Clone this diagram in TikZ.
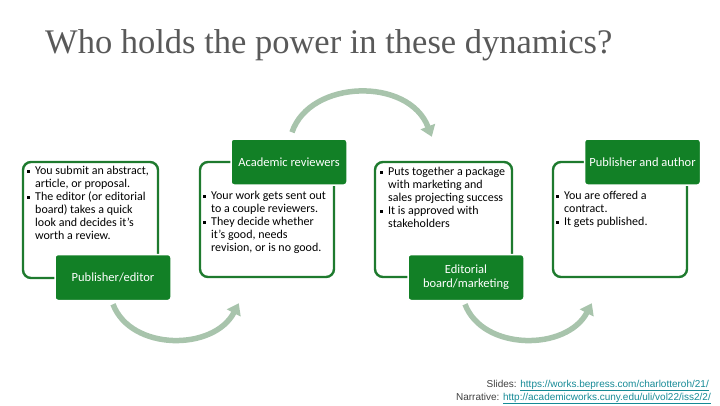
\documentclass[tikz,border=0pt]{standalone}
\usepackage{fontspec}
\setmainfont{Carlito}
\newfontfamily\titlefont{Liberation Serif}
\newfontfamily\notefont{Liberation Sans}
\usetikzlibrary{arrows.meta,calc}
\definecolor{boxgreen}{RGB}{18,128,38}
\definecolor{linegreen}{RGB}{30,122,46}
\definecolor{flowgray}{RGB}{168,196,172}
\definecolor{titlegray}{RGB}{89,89,89}
\definecolor{linkteal}{RGB}{22,138,150}
\tikzset{panel/.style={draw=linegreen,line width=2.4pt,rounded corners=8pt,fill=white,inner sep=0pt},
  tag/.style={fill=boxgreen,draw=white,line width=1.5pt,rounded corners=3pt,text=white,align=center,
    minimum width=116pt,minimum height=46pt,font=\fontsize{12.5}{14}\selectfont},
  points/.style={anchor=north west,align=left,inner sep=0pt,font=\fontsize{12}{13}\selectfont},
  flow/.style={draw=flowgray,line width=5.5pt,-{Triangle[width=15pt,length=11pt]}},
  source/.style={anchor=base east,inner sep=0pt,text=black!75,font=\notefont\fontsize{10}{12}\selectfont}}
\newcommand{\bul}{\makebox[8pt][l]{\rule[0.3ex]{0.45ex}{0.45ex}}}
\newcommand{\ind}{\hspace*{8pt}}
\newcommand{\weblink}[1]{\textcolor{linkteal}{\underline{#1}}}

\begin{document}
\begin{tikzpicture}[x=1pt,y=-1pt]
\useasboundingbox (0,0) rectangle (720,405);
\node[anchor=base west,inner sep=0pt,text=titlegray,font=\titlefont\fontsize{34.5}{38}\selectfont] (title) at (45,53) {Who holds the power in these dynamics?};
% outlined panels
\node[panel,minimum width=135pt,minimum height=116pt] (p1) at (90.5,220) {};
\node[panel,minimum width=134pt,minimum height=115pt] (p2) at (267,219.5) {};
\node[panel,minimum width=137pt,minimum height=115pt] (p3) at (443.5,219.5) {};
\node[panel,minimum width=134pt,minimum height=115pt] (p4) at (620,219.5) {};
% green tags
\node[tag] (l1) at (113,277.5) {Publisher/editor};
\node[tag] (l2) at (289,162) {Academic reviewers};
\node[tag] (l3) at (466,277.5) {Editorial\\board/marketing};
\node[tag] (l4) at (642.5,162) {Publisher and author};
% bullet texts
\node[points] (t1) at (27,166) {\bul You submit an abstract,\\\ind article, or proposal.\\\bul The editor (or editorial\\\ind board) takes a quick\\\ind look and decides it's\\\ind worth a review.};
\node[points] (t2) at (203,191) {\bul Your work gets sent out\\\ind to a couple reviewers.\\\bul They decide whether\\\ind it's good, needs\\\ind revision, or is no good.};
\node[points] (t3) at (380,167) {\bul Puts together a package\\\ind with marketing and\\\ind sales projecting success\\\bul It is approved with\\\ind stakeholders};
\node[points] (t4) at (556,191) {\bul You are offered a\\\ind contract.\\\bul It gets published.};
% arrows
\coordinate (a1s) at ($(l1.south)+(0,3)$);
\coordinate (a1e) at ($(p2.south west)+(40,25)$);
\coordinate (a2s) at ($(l2.north)+(3,-6)$);
\coordinate (a2e) at ($(p3.north west)+(58,-24)$);
\coordinate (a3s) at ($(l3.south)+(-1,3)$);
\coordinate (a3e) at ($(p4.south west)+(40,25)$);
\draw[flow] (a1s) .. controls +(18,47) and +(-25,48) .. (a1e);
\draw[flow] (a2s) .. controls +(18,-53) and +(-23,-60) .. (a2e);
\draw[flow] (a3s) .. controls +(18,47) and +(-25,48) .. (a3e);
% sources
\node[source] (src1) at (709,387) {Slides: \weblink{https://works.bepress.com/charlotteroh/21/}};
\node[source] (src2) at (711,400) {Narrative: \weblink{http://academicworks.cuny.edu/uli/vol22/iss2/2/}};
\end{tikzpicture}
\end{document}
